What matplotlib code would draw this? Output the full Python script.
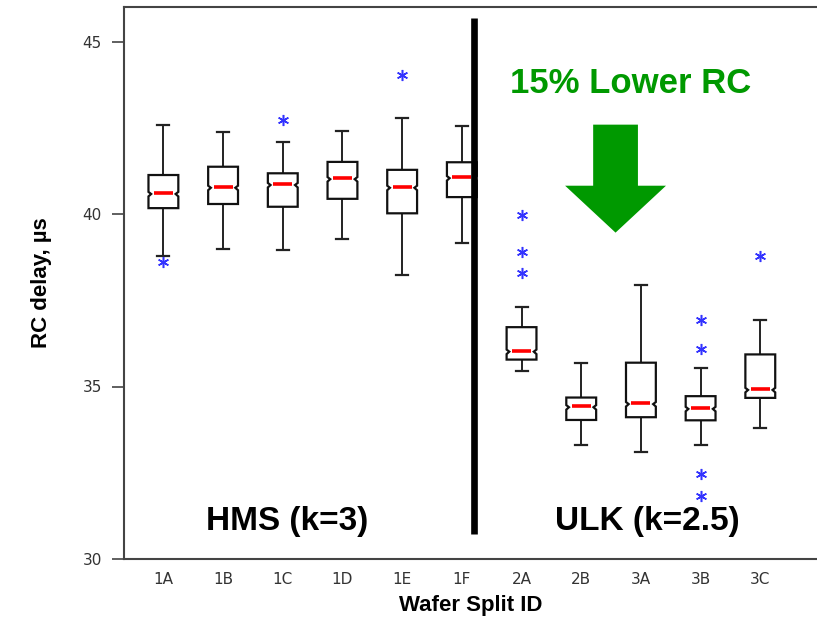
import matplotlib
matplotlib.use("Agg")
import matplotlib.pyplot as plt
from matplotlib.patches import FancyArrow

labels = ["1A", "1B", "1C", "1D", "1E", "1F", "2A", "2B", "3A", "3B", "3C"]
whislo = [38.78, 39.00, 38.96, 39.28, 38.23, 39.15, 35.46, 33.29, 33.11, 33.29, 33.80]
q1 = [40.17, 40.29, 40.21, 40.44, 40.02, 40.49, 35.78, 34.03, 34.11, 34.02, 34.67]
med = [40.61, 40.79, 40.87, 41.04, 40.79, 41.07, 36.04, 34.43, 34.52, 34.38, 34.93]
q3 = [41.13, 41.37, 41.18, 41.51, 41.28, 41.50, 36.72, 34.68, 35.69, 34.72, 35.93]
whishi = [42.57, 42.38, 42.10, 42.42, 42.79, 42.56, 37.31, 35.69, 37.95, 35.55, 36.94]
fliers = [[38.60], [], [42.73], [], [44.04], [], [39.97, 38.90, 38.28],
          [], [], [36.93, 36.10, 32.45, 31.82], [38.77]]

fig = plt.figure(figsize=(8.17, 6.2), dpi=100)
ax = fig.add_axes([124 / 817, 61 / 620, 1 - 124 / 817, 552 / 620])

pos = list(range(1, len(labels) + 1))
stats = []
for i in range(len(labels)):
    stats.append({"label": labels[i], "whislo": whislo[i], "q1": q1[i], "med": med[i],
                  "q3": q3[i], "whishi": whishi[i], "fliers": fliers[i]})

ax.bxp(stats, positions=pos, widths=0.5, showbox=False, showcaps=True,
       capwidths=0.2, manage_ticks=False,
       medianprops=dict(linewidth=0),
       whiskerprops=dict(color="#222222", linewidth=1.4),
       capprops=dict(color="#222222", linewidth=1.6),
       flierprops=dict(marker=(6, 2, 0), markersize=8, markeredgewidth=1.1,
                       markeredgecolor="#3333ff", linestyle="none"))

# notched boxes + red medians
w = 0.5
d = 0.045
for p, lo, m, hi in zip(pos, q1, med, q3):
    l, r = p - w / 2, p + w / 2
    xs = [l, r, r, r - d, r, r, l, l, l + d, l, l]
    ys = [hi, hi, m + 0.03, m - 0.03, m - 0.1, lo, lo, m - 0.1, m - 0.03, m + 0.03, hi]
    ax.fill(xs, ys, facecolor="white", edgecolor="#111111", linewidth=1.6, zorder=3)
    ax.plot([p - 0.16, p + 0.16], [m, m], color="#ff0000", linewidth=2.6, zorder=4,
            solid_capstyle="butt")

# separator between the two groups
ax.plot([6.2, 6.2], [30.73, 45.67], color="black", linewidth=4.8, zorder=5,
        solid_capstyle="butt")

ax.add_patch(FancyArrow(8.575, 42.59, 0, -3.13, width=0.75, head_width=1.69,
                        head_length=1.36, length_includes_head=True,
                        color="#009900", linewidth=0))

bold = dict(family=["Liberation Sans", "DejaVu Sans"], fontweight="bold")
ax.text(8.82, 43.52, "15% Lower RC", color="#009900", fontsize=25, ha="center",
        va="baseline", **bold)
ax.text(3.07, 30.84, "HMS (k=3)", color="black", fontsize=24, ha="center",
        va="baseline", **bold)
ax.text(9.10, 30.84, "ULK (k=2.5)", color="black", fontsize=24, ha="center",
        va="baseline", **bold)

ax.set_xlim(0.34, 11.95)
ax.set_ylim(30, 46)
ax.set_yticks([30, 35, 40, 45])
ax.set_xticks(pos)
ax.set_xticklabels(labels)
ax.tick_params(axis="x", length=0, pad=9, labelsize=11, labelcolor="#333333")
ax.tick_params(axis="y", length=9, width=1.2, color="#444444", pad=7,
               labelsize=11, labelcolor="#333333")
for s in ["left", "bottom", "top"]:
    ax.spines[s].set_color("#444444")
    ax.spines[s].set_linewidth(1.5)
ax.spines["right"].set_visible(False)

ax.set_ylabel("RC delay, µs", fontsize=16, labelpad=22, **bold)
ax.set_xlabel("Wafer Split ID", fontsize=16, labelpad=6, **bold)

fig.savefig("out.png", dpi=100)
